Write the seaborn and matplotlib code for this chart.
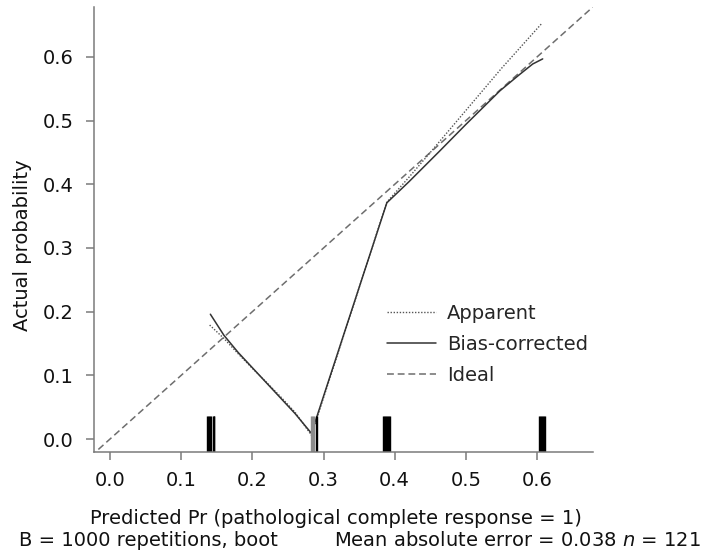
import numpy as np
import pandas as pd
import matplotlib
matplotlib.use("Agg")
import matplotlib.pyplot as plt
import seaborn as sns
from matplotlib.lines import Line2D

# Calibration curves
apparent_x = [0.140, 0.160, 0.180, 0.200, 0.220, 0.240, 0.260, 0.283,
              0.389, 0.420, 0.450, 0.500, 0.550, 0.607]
apparent_y = [0.179, 0.158, 0.134, 0.111, 0.089, 0.066, 0.042, 0.006,
              0.372, 0.411, 0.450, 0.516, 0.582, 0.653]

bias_x = [0.141, 0.160, 0.180, 0.200, 0.220, 0.240, 0.260, 0.283,
          0.389, 0.420, 0.463, 0.500, 0.548, 0.575, 0.594, 0.608]
bias_y = [0.196, 0.163, 0.136, 0.112, 0.088, 0.064, 0.040, 0.009,
          0.371, 0.404, 0.452, 0.494, 0.547, 0.572, 0.589, 0.597]

ideal_x = [-0.05, 0.70]
ideal_y = [-0.05, 0.70]

# Distribution of predicted probabilities (spike marks at the bottom)
pred_black = [0.1365, 0.1378, 0.1391, 0.1404, 0.1417,
              0.1442, 0.1455, 0.1468,
              0.2896, 0.2908,
              0.3837, 0.3850, 0.3863, 0.3876, 0.3889, 0.3902, 0.3915, 0.3928,
              0.6035, 0.6048, 0.6061, 0.6074, 0.6087, 0.6100, 0.6113]
pred_gray = [0.2826, 0.2838, 0.2858, 0.2868]

ticks = [0.0, 0.1, 0.2, 0.3, 0.4, 0.5, 0.6]

sns.set_style("ticks")
plt.rcParams["font.family"] = ["DejaVu Sans"]

fig = plt.figure(figsize=(7.08, 5.56), dpi=100)
ax = fig.add_axes([94.3 / 708, 104 / 556, 498.7 / 708, 445 / 556])

df_app = pd.DataFrame({"x": apparent_x, "y": apparent_y})
df_bias = pd.DataFrame({"x": bias_x, "y": bias_y})
df_ideal = pd.DataFrame({"x": ideal_x, "y": ideal_y})

sns.lineplot(data=df_ideal, x="x", y="y", ax=ax, color="#6e6e6e", lw=1.1,
             linestyle=(0, (4.5, 2.5)), sort=False)
sns.lineplot(data=df_app, x="x", y="y", ax=ax, color="#555555", lw=1.0,
             linestyle=(0, (1, 1.2)), sort=False)
sns.lineplot(data=df_bias, x="x", y="y", ax=ax, color="#333333", lw=1.1,
             sort=False)

sns.rugplot(x=pred_black, ax=ax, height=0.081, color="black", lw=1.3,
            expand_margins=False)
sns.rugplot(x=pred_gray, ax=ax, height=0.081, color="#8c8c8c", lw=1.1,
            expand_margins=False)

ax.set_xlim(-0.0221, 0.6787)
ax.set_ylim(-0.0204, 0.6785)
ax.set_xticks(ticks)
ax.set_yticks(ticks)
ax.set_xticklabels([f"{t:.1f}" for t in ticks])
ax.set_yticklabels([f"{t:.1f}" for t in ticks])

for side in ["top", "right"]:
    ax.spines[side].set_visible(False)
for side in ["left", "bottom"]:
    ax.spines[side].set_color("#7a7a7a")
    ax.spines[side].set_linewidth(1.1)

ax.tick_params(axis="both", colors="#7a7a7a", labelcolor="#111111",
               labelsize=14, length=6, width=1.1)
ax.tick_params(axis="y", pad=9)
ax.tick_params(axis="x", pad=8)

ax.set_xlabel("Predicted Pr (pathological complete response = 1)",
              fontsize=14, color="#111111")
ax.set_ylabel("Actual probability", fontsize=14, color="#111111")
ax.xaxis.label.set_va("center")
ax.yaxis.label.set_va("center")
ax.xaxis.set_label_coords((336 - 94.3) / 498.7, (452 - 519) / 445)
ax.yaxis.set_label_coords((22 - 94.3) / 498.7, (452 - 245) / 445)

handles = [
    Line2D([], [], color="#555555", lw=1.0, linestyle=(0, (1, 1.2))),
    Line2D([], [], color="#333333", lw=1.1),
    Line2D([], [], color="#6e6e6e", lw=1.1, linestyle=(0, (4.5, 2.5))),
]
ax.legend(handles, ["Apparent", "Bias-corrected", "Ideal"], frameon=False,
          fontsize=14, loc="upper left",
          bbox_to_anchor=((387 - 94.3) / 498.7, (452 - 304) / 445),
          borderpad=0, borderaxespad=0, handlelength=2.5, handletextpad=0.6,
          labelspacing=0.62)

fig.text(19 / 708, (556 - 541) / 556, "B = 1000 repetitions, boot",
         fontsize=14, va="center", ha="left", color="#111111")
fig.text(334 / 708, (556 - 541) / 556,
         "Mean absolute error = 0.038 $\\it{n}$ = 121",
         fontsize=14, va="center", ha="left", color="#111111")

fig.savefig("out.png", dpi=100)
